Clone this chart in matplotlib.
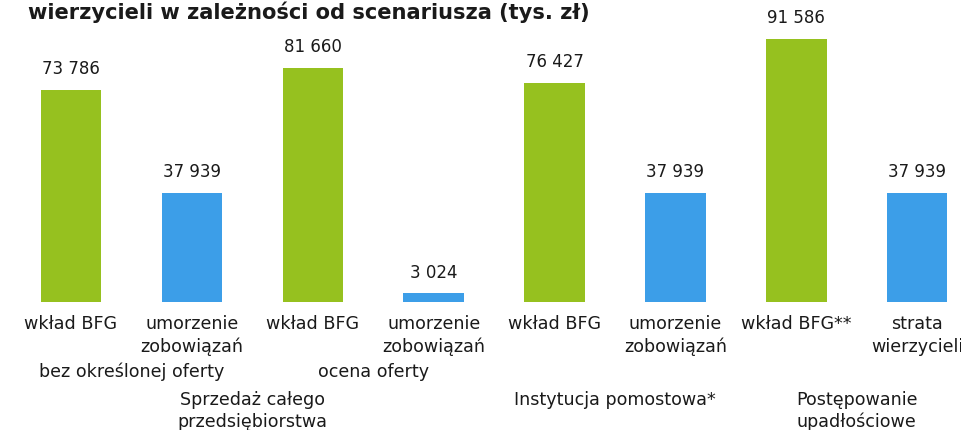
import matplotlib.pyplot as plt
import matplotlib.transforms as mtransforms

# dane (tys. zł)
kategorie = ["wkład BFG", "umorzenie\nzobowiązań", "wkład BFG", "umorzenie\nzobowiązań",
             "wkład BFG", "umorzenie\nzobowiązań", "wkład BFG**", "strata\nwierzycieli"]
wartosci = [73786, 37939, 81660, 3024, 76427, 37939, 91586, 37939]
kolory = ["#96c11f", "#3c9ee8"] * 4
podpisy_wartosci = ["73 786", "37 939", "81 660", "3 024", "76 427", "37 939", "91 586", "37 939"]

grupy = ["bez określonej oferty", "ocena oferty", "Sprzedaż całego\nprzedsiębiorstwa",
         "Instytucja pomostowa*", "Postępowanie\nupadłościowe"]
grupy_x = [0.5, 2.5, 1.5, 4.5, 6.5]
grupy_y = [372, 372, 411, 400, 411]  # piksele od góry

tytul = "wierzycieli w zależności od scenariusza (tys. zł)"

W, H = 962, 430
fig = plt.figure(figsize=(W / 100, H / 100), dpi=100)
ax = fig.add_axes([0, 128 / H, 1, 302 / H])

x = list(range(len(wartosci)))
ax.bar(x, wartosci, width=0.5, color=kolory)
ax.set_xlim(-0.587, 7.37)
ax.set_ylim(0, 105170)

for xi, v, s in zip(x, wartosci, podpisy_wartosci):
    ax.annotate(s, (xi, v), xytext=(0, 8.5), textcoords="offset points",
                ha="center", va="bottom", fontsize=12, color="#1a1a1a")

ax.set_xticks(x)
ax.set_xticklabels(kategorie, fontsize=12.6, color="#1a1a1a", linespacing=1.32)
ax.tick_params(axis="x", length=0, pad=9.5)
ax.set_yticks([])
for sp in ax.spines.values():
    sp.set_visible(False)

# podpisy grup
tr = mtransforms.blended_transform_factory(ax.transData, fig.transFigure)
for gx, gy, txt in zip(grupy_x, grupy_y, grupy):
    ax.text(gx, 1 - gy / H, txt, transform=tr, ha="center", va="center",
            fontsize=12.6, color="#1a1a1a", linespacing=1.3)

fig.text(28 / W, 1 - 19 / H, tytul, fontsize=15.1, fontweight="bold",
         ha="left", va="baseline", color="#1a1a1a")

fig.savefig("out.png", dpi=100)
